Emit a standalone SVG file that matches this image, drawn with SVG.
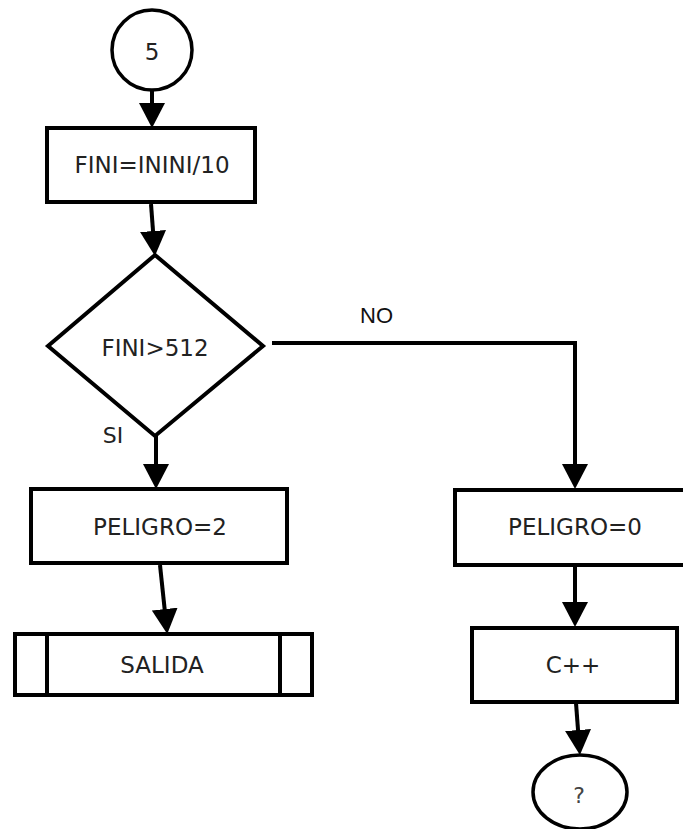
<svg xmlns="http://www.w3.org/2000/svg" width="683" height="829" viewBox="0 0 683 829">
  <style>
    .shape { fill: #ffffff; stroke: #000000; stroke-width: 4; }
    .thin { fill: #ffffff; stroke: #000000; stroke-width: 3.5; }
    .lbl { font-family: "DejaVu Sans", Verdana, sans-serif; font-size: 23px; fill: #222222; text-anchor: middle; }
    .edge { fill: none; stroke: #000000; stroke-width: 4; }
    .elbl { font-family: "Liberation Sans", Arial, sans-serif; font-size: 22px; fill: #111111; }
  </style>
  <defs>
    <marker id="arr" markerUnits="userSpaceOnUse" markerWidth="26" markerHeight="26" refX="13" refY="13" orient="auto">
      <path d="M0,0 L25,13 L0,26 Z" fill="#000000"/>
    </marker>
  </defs>

  <g id="connectors">
    <path class="edge" d="M152,90 L152,116" marker-end="url(#arr)"/>
    <path class="edge" d="M151,204 L154,244" marker-end="url(#arr)"/>
    <path class="edge" d="M156,436 L156,477" marker-end="url(#arr)"/>
    <path class="edge" d="M272,343 H575 V477" marker-end="url(#arr)"/>
    <path class="edge" d="M160,565 L166,622" marker-end="url(#arr)"/>
    <path class="edge" d="M575,566 L575,615" marker-end="url(#arr)"/>
    <path class="edge" d="M576,703 L579,743" marker-end="url(#arr)"/>
    <text class="elbl" x="360" y="323">NO</text>
    <text class="lbl" x="113" y="443" style="font-size:22px">SI</text>
  </g>

  <g id="start">
    <circle class="thin" cx="152" cy="50" r="40"/>
    <text class="lbl" x="152" y="60">5</text>
  </g>

  <g id="fini">
    <rect class="shape" x="47" y="128" width="208" height="74"/>
    <text class="lbl" x="152" y="173">FINI=ININI/10</text>
  </g>

  <g id="decision">
    <polygon class="shape" points="155,255 263,346 155,436 48,346"/>
    <text class="lbl" x="155" y="356">FINI&gt;512</text>
  </g>

  <g id="peligro2">
    <rect class="shape" x="31" y="489" width="256" height="74"/>
    <text class="lbl" x="160" y="535">PELIGRO=2</text>
  </g>

  <g id="salida">
    <rect class="shape" x="15" y="634" width="297" height="61"/>
    <line class="shape" x1="47" y1="634" x2="47" y2="695"/>
    <line class="shape" x1="280" y1="634" x2="280" y2="695"/>
    <text class="lbl" x="162" y="673">SALIDA</text>
  </g>

  <g id="peligro0">
    <rect class="shape" x="455" y="490" width="240" height="75"/>
    <text class="lbl" x="575" y="535">PELIGRO=0</text>
  </g>

  <g id="cpp">
    <rect class="shape" x="472" y="628" width="205" height="74"/>
    <text class="lbl" x="573" y="673">C++</text>
  </g>

  <g id="end">
    <ellipse class="thin" cx="580" cy="792" rx="47" ry="37"/>
    <text class="lbl" x="579" y="803" style="font-size:22px;fill:#444444">?</text>
  </g>
</svg>
